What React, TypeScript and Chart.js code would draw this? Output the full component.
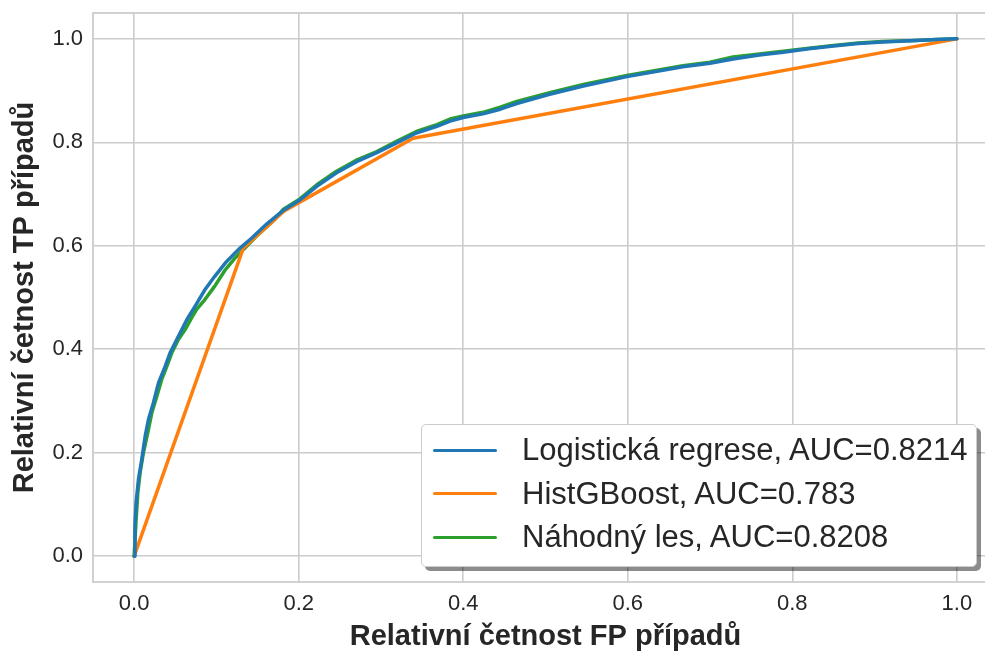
import React, { useEffect, useRef } from "react";
import { Chart, registerables } from "chart.js";

Chart.register(...registerables);

const seriesLabels = [
  "Logistická regrese, AUC=0.8214",
  "HistGBoost, AUC=0.783",
  "Náhodný les, AUC=0.8208",
];
const seriesColors = ["#1f77b4", "#ff7f0e", "#2ca02c"];

const fprLR = [
  0, 0.001, 0.0024, 0.0053, 0.0093, 0.0134, 0.0174, 0.0235, 0.0296, 0.0377,
  0.0437, 0.0538, 0.064, 0.074, 0.086, 0.098, 0.111, 0.127, 0.143, 0.161,
  0.181, 0.2, 0.222, 0.246, 0.271, 0.295, 0.319, 0.343, 0.368, 0.384, 0.4,
  0.424, 0.445, 0.465, 0.505, 0.546, 0.599, 0.667, 0.7, 0.728, 0.76, 0.789,
  0.82, 0.85, 0.88, 0.91, 0.95, 0.975, 1,
];
const tprLR = [
  0, 0.06, 0.104, 0.149, 0.187, 0.232, 0.264, 0.297, 0.335, 0.367, 0.393,
  0.425, 0.457, 0.483, 0.515, 0.541, 0.567, 0.593, 0.615, 0.642, 0.668, 0.687,
  0.715, 0.741, 0.763, 0.78, 0.799, 0.818, 0.831, 0.841, 0.848, 0.855, 0.864,
  0.875, 0.893, 0.909, 0.927, 0.946, 0.953, 0.961, 0.969, 0.974, 0.981, 0.986,
  0.991, 0.994, 0.997, 0.999, 1,
];

const fprHGB = [0, 0.1328, 0.182, 0.339, 1];
const tprHGB = [0, 0.596, 0.667, 0.808, 1];

const fprRF = [
  0, 0.0024, 0.0045, 0.0073, 0.0113, 0.0166, 0.0215, 0.0276, 0.0336, 0.0397,
  0.0458, 0.0538, 0.062, 0.07, 0.076, 0.086, 0.098, 0.111, 0.123, 0.135,
  0.151, 0.171, 0.181, 0.2, 0.222, 0.246, 0.271, 0.295, 0.319, 0.343, 0.368,
  0.384, 0.4, 0.424, 0.445, 0.465, 0.505, 0.546, 0.599, 0.667, 0.7, 0.728,
  0.76, 0.789, 0.82, 0.85, 0.88, 0.91, 0.95, 0.975, 1,
];
const tprRF = [
  0, 0.071, 0.123, 0.162, 0.2, 0.239, 0.277, 0.309, 0.342, 0.367, 0.393,
  0.419, 0.438, 0.461, 0.477, 0.496, 0.522, 0.554, 0.577, 0.596, 0.622, 0.651,
  0.67, 0.689, 0.718, 0.744, 0.766, 0.782, 0.802, 0.821, 0.834, 0.845, 0.851,
  0.858, 0.868, 0.879, 0.896, 0.912, 0.929, 0.948, 0.955, 0.965, 0.971, 0.976,
  0.982, 0.987, 0.992, 0.995, 0.997, 0.999, 1,
];

const xTicks = [0, 0.2, 0.4, 0.6, 0.8, 1.0];
const yTicks = [0, 0.2, 0.4, 0.6, 0.8, 1.0];
const xTitle = "Relativní četnost FP případů";
const yTitle = "Relativní četnost TP případů";

const FONT = "'Liberation Sans', Arial, Helvetica, sans-serif";
const GRID = "#cccccc";
const TEXT = "#262626";

function toPoints(xs: number[], ys: number[]) {
  return xs.map((x, i) => ({ x, y: ys[i] }));
}

const frameBorder = {
  id: "frameBorder",
  afterDatasetsDraw(chart: any) {
    const { ctx, chartArea } = chart;
    ctx.save();
    ctx.strokeStyle = GRID;
    ctx.lineWidth = 1.8;
    ctx.strokeRect(chartArea.left, chartArea.top, chartArea.right - chartArea.left, chartArea.bottom - chartArea.top);
    ctx.restore();
  },
};

export default function App() {
  const canvasRef = useRef<HTMLCanvasElement | null>(null);

  useEffect(() => {
    document.body.style.margin = "0";
    const canvas = canvasRef.current;
    if (!canvas) return;
    const allX = [fprLR, fprHGB, fprRF];
    const allY = [tprLR, tprHGB, tprRF];
    const chart = new Chart(canvas, {
      type: "scatter",
      data: {
        datasets: seriesLabels.map((label, i) => ({
          label,
          data: toPoints(allX[i], allY[i]),
          showLine: true,
          borderColor: seriesColors[i],
          backgroundColor: seriesColors[i],
          borderWidth: 3.5,
          pointRadius: 0,
          pointHoverRadius: 0,
          tension: 0,
          borderJoinStyle: "round",
          borderCapStyle: "round",
        })),
      },
      options: {
        animation: false,
        responsive: false,
        maintainAspectRatio: false,
        layout: { padding: { top: 13, right: 0, left: 0, bottom: 0 } },
        plugins: {
          legend: { display: false },
          tooltip: { enabled: false },
        },
        scales: {
          x: {
            type: "linear",
            min: -0.05,
            max: 1.05,
            afterBuildTicks: (scale: any) => {
              scale.ticks = xTicks.map((v) => ({ value: v }));
            },
            afterFit: (scale: any) => {
              scale.height = 70;
              scale.paddingLeft = 0;
              scale.paddingRight = 0;
            },
            grid: { color: GRID, lineWidth: 1.6, drawTicks: false },
            border: { display: false },
            ticks: {
              padding: 9,
              color: TEXT,
              font: { family: FONT, size: 22 },
              callback: (v: any) => Number(v).toFixed(1),
              maxRotation: 0,
            },
            title: {
              display: true,
              text: xTitle,
              color: TEXT,
              font: { family: FONT, size: 29, weight: "bold" },
              padding: { top: 0, bottom: -2 },
            },
          },
          y: {
            type: "linear",
            min: -0.05,
            max: 1.05,
            afterBuildTicks: (scale: any) => {
              scale.ticks = yTicks.map((v) => ({ value: v }));
            },
            afterFit: (scale: any) => {
              scale.width = 93;
              scale.paddingTop = 0;
              scale.paddingBottom = 0;
            },
            grid: { color: GRID, lineWidth: 1.6, drawTicks: false },
            border: { display: false },
            ticks: {
              padding: 10,
              color: TEXT,
              font: { family: FONT, size: 22 },
              callback: (v: any) => Number(v).toFixed(1),
            },
            title: {
              display: true,
              text: yTitle,
              color: TEXT,
              font: { family: FONT, size: 29, weight: "bold" },
              padding: { top: 8, bottom: 0 },
            },
          },
        },
      },
      plugins: [frameBorder],
    });
    return () => chart.destroy();
  }, []);

  return (
    <div style={{ position: "relative", width: 985, height: 652, overflow: "hidden", background: "#fff" }}>
      <canvas ref={canvasRef} width={998} height={652} style={{ display: "block", width: 998, height: 652 }} />
      <div
        style={{
          position: "absolute",
          left: 421,
          top: 424,
          width: 556,
          height: 143,
          boxSizing: "border-box",
          background: "#ffffff",
          border: "1.5px solid #cccccc",
          borderRadius: 5,
          boxShadow: "4px 4px 0 rgba(0,0,0,0.45)",
          fontFamily: FONT,
          fontSize: 31,
          color: TEXT,
        }}
      >
        {seriesLabels.map((label, i) => (
          <div
            key={label}
            style={{
              position: "absolute",
              left: 0,
              top: 25 + i * 43.5 - 20,
              height: 40,
              display: "flex",
              alignItems: "center",
              whiteSpace: "nowrap",
            }}
          >
            <span
              style={{
                display: "inline-block",
                marginLeft: 11,
                width: 64,
                height: 3,
                background: seriesColors[i],
                borderRadius: 1.5,
              }}
            />
            <span style={{ marginLeft: 25, lineHeight: "40px" }}>{label}</span>
          </div>
        ))}
      </div>
    </div>
  );
}
